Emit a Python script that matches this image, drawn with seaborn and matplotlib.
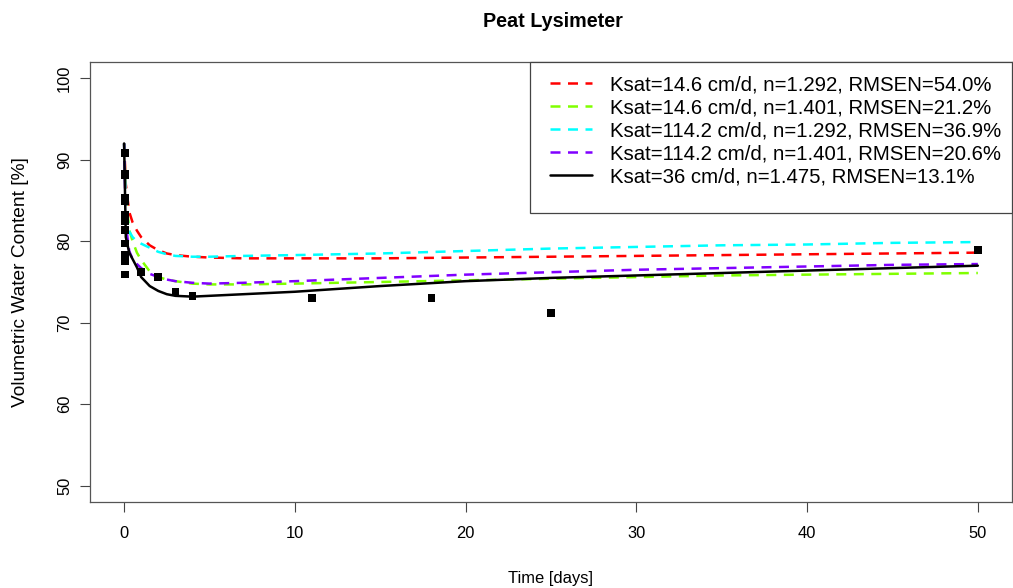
import matplotlib
matplotlib.use("Agg")
import matplotlib.pyplot as plt
import seaborn as sns
import pandas as pd
from matplotlib.patches import Rectangle

# Simulated volumetric water content [%] for each parameter set
model_time = [0, 0.1, 0.3, 0.5, 0.75, 1, 1.5, 2, 2.5, 3, 4, 5, 7, 10,
              15, 20, 25, 30, 35, 40, 45, 50]
theta_k146_n1292 = [92.0, 87.0, 83.6, 82.3, 81.3, 80.5, 79.5, 78.9, 78.5, 78.3, 78.1,
                    78.0, 77.9, 77.9, 77.9, 78.0, 78.1, 78.2, 78.3, 78.4, 78.5, 78.6]
theta_k146_n1401 = [92.0, 85.5, 81.4, 80.0, 78.6, 77.7, 76.3, 75.6, 75.3, 75.1, 74.8,
                    74.7, 74.7, 74.8, 75.0, 75.2, 75.4, 75.6, 75.8, 75.9, 76.0, 76.1]
theta_k1142_n1292 = [92.0, 84.5, 81.2, 80.5, 80.0, 79.7, 79.2, 78.7, 78.4, 78.2, 78.1,
                     78.1, 78.2, 78.3, 78.5, 78.8, 79.1, 79.3, 79.5, 79.6, 79.8, 79.9]
theta_k1142_n1401 = [92.0, 82.0, 78.8, 77.8, 77.2, 76.7, 76.0, 75.6, 75.3, 75.1, 74.9,
                     74.8, 74.9, 75.1, 75.5, 75.9, 76.2, 76.5, 76.7, 76.9, 77.1, 77.2]
theta_k36_n1475 = [92.0, 80.5, 78.6, 77.8, 76.8, 75.6, 74.5, 73.9, 73.5, 73.3, 73.2,
                   73.3, 73.5, 73.8, 74.5, 75.1, 75.5, 75.8, 76.1, 76.4, 76.7, 77.0]

# Measured water content in the lysimeter
obs_time = [0.05, 0.05, 0.05, 0.05, 0.05, 0.05, 0.05, 0.05, 0.05, 0.05, 0.05, 0.05,
            1, 2, 3, 4, 11, 18, 25, 50]
obs_theta = [90.8, 88.1, 88.3, 85.3, 84.9, 83.3, 82.4, 81.4, 79.7, 78.3, 77.5, 75.9,
             76.2, 75.6, 73.8, 73.3, 73.0, 73.0, 71.2, 78.9]

series_labels = [
    "Ksat=14.6 cm/d, n=1.292, RMSEN=54.0%",
    "Ksat=14.6 cm/d, n=1.401, RMSEN=21.2%",
    "Ksat=114.2 cm/d, n=1.292, RMSEN=36.9%",
    "Ksat=114.2 cm/d, n=1.401, RMSEN=20.6%",
    "Ksat=36 cm/d, n=1.475, RMSEN=13.1%",
]
series_values = [theta_k146_n1292, theta_k146_n1401, theta_k1142_n1292,
                 theta_k1142_n1401, theta_k36_n1475]
series_colors = ["#FF0000", "#80FF00", "#00FFFF", "#8000FF", "#000000"]
series_dashed = [True, True, True, True, False]

x_ticks = [0, 10, 20, 30, 40, 50]
y_ticks = [50, 60, 70, 80, 90, 100]

sns.set_theme(style="white")
plt.rcParams["font.family"] = ["Liberation Sans", "DejaVu Sans"]

fig = plt.figure(figsize=(10.13, 5.88), dpi=100)
ax = fig.add_axes([0.0888, 0.1463, 0.9102, 0.7483])

for label, vals, col, dashed in zip(series_labels, series_values, series_colors, series_dashed):
    df = pd.DataFrame({"t": model_time, "theta": vals})
    ls = (0, (4, 3)) if dashed else "-"
    sns.lineplot(data=df, x="t", y="theta", ax=ax, color=col, linewidth=1.8,
                 linestyle=ls, label=label, sort=False, estimator=None)

obs = pd.DataFrame({"t": obs_time, "theta": obs_theta})
sns.scatterplot(data=obs, x="t", y="theta", ax=ax, marker="s", s=30, color="black",
                edgecolor="none", linewidth=0, legend=False, zorder=5)

ax.set_xlim(-2, 52)
ax.set_ylim(48, 102)
ax.set_xticks(x_ticks)
ax.set_yticks(y_ticks)
ax.set_yticklabels([str(v) for v in y_ticks], rotation=90, va="center")
ax.tick_params(axis="both", which="major", direction="out", length=7, width=0.8,
               color="#444444", labelsize=11.9, labelcolor="black", bottom=True, left=True)
ax.tick_params(axis="x", pad=10)
ax.tick_params(axis="y", pad=6)
for sp in ax.spines.values():
    sp.set_visible(True)
    sp.set_color("#555555")
    sp.set_linewidth(0.9)

ax.set_xlabel("Time [days]", fontsize=11.9, labelpad=22, color="black")
ax.set_ylabel("Volumetric Water Content [%]", fontsize=13.8, labelpad=20, color="black")
fig.suptitle("Peat Lysimeter", fontsize=14.2, fontweight="bold", x=0.546, y=0.98,
             color="black")

# Legend with a frame in the upper right corner of the plot region
ax.add_patch(Rectangle((0.5232, 0.6378), 0.4758, 0.2568, transform=fig.transFigure,
                       fill=True, facecolor="white", edgecolor="#444444",
                       linewidth=0.9, zorder=10, clip_on=False))
leg = ax.legend(loc="upper left", bbox_to_anchor=(0.543, 0.8724),
                bbox_transform=fig.transFigure, frameon=False, fontsize=14.7,
                handlelength=2.05, handletextpad=0.9, labelspacing=0.2,
                borderpad=0, borderaxespad=0)
leg.set_zorder(11)
for txt in leg.get_texts():
    txt.set_color("black")

fig.savefig("out.png", dpi=100)
